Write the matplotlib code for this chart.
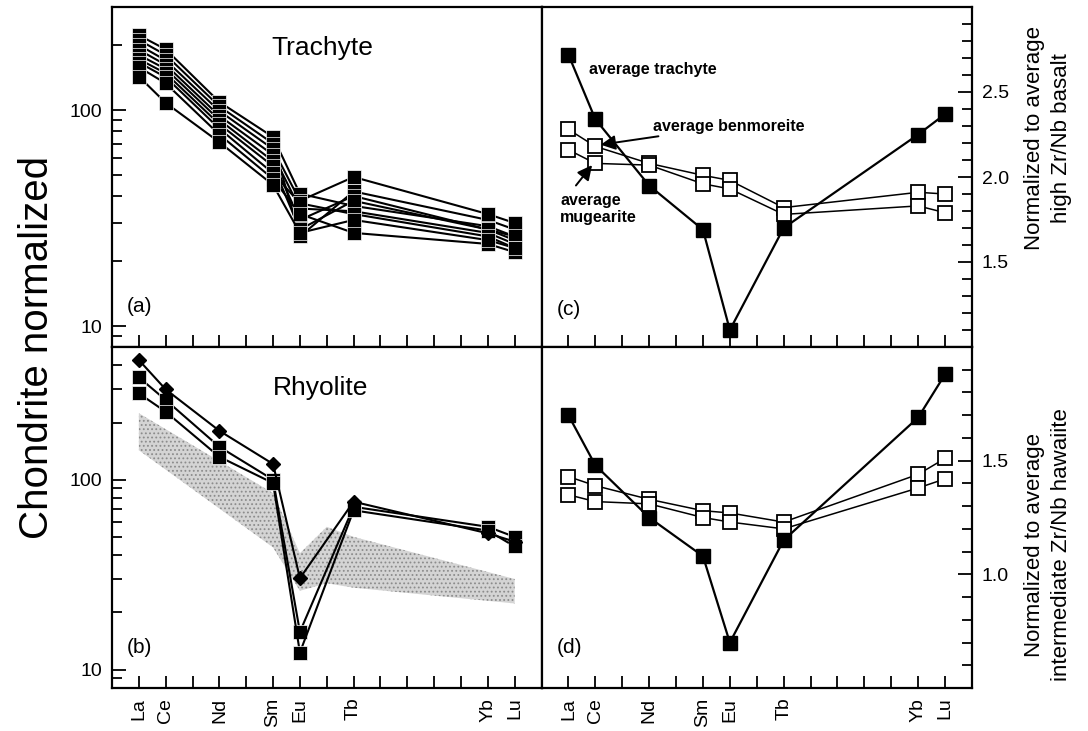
import matplotlib
matplotlib.use("Agg")
import matplotlib.pyplot as plt
from matplotlib import ticker

plt.rcParams["font.family"] = ["Liberation Sans", "DejaVu Sans"]

# Lanthanides on the x axis: every element gets a tick, analysed ones a label
ree_all = ["La", "Ce", "Pr", "Nd", "Pm", "Sm", "Eu", "Gd", "Tb", "Dy", "Ho", "Er", "Tm", "Yb", "Lu"]
ree = ["La", "Ce", "Nd", "Sm", "Eu", "Tb", "Yb", "Lu"]

# (a) trachytes, chondrite normalized
trachyte = [
    [222, 191, 109, 75, 41, 36, 29, 26],
    [211, 180, 104, 70, 26, 42, 31, 28],
    [200, 170, 99, 66, 38, 49, 33, 30],
    [190, 162, 94, 62, 35, 34, 27, 24],
    [180, 155, 90, 58, 31, 40, 28, 25],
    [172, 148, 86, 55, 28, 38, 28, 26],
    [166, 142, 82, 51, 37, 33, 26, 23],
    [158, 133, 77, 48, 33, 27, 24, 22],
    [143, 108, 71, 45, 27, 31, 25, 23],
]

# (b) rhyolites, chondrite normalized
rhyolite_sq = [
    [346, 263, 149, 100, 15.8, 72, 56.5, 50],
    [285, 228, 132, 96, 12.3, 69, 54, 44.5],
]
rhyolite_dia = [427, 299, 181, 121, 30.3, 76.6, 52.2, 47.2]
band_ree = ["La", "Sm", "Eu", "Gd", "Tb", "Lu"]
band_upper = [224, 85, 41, 56.5, 50, 30]
band_lower = [143, 44, 26, 28.5, 27, 22.3]

# (c) normalized to average high Zr/Nb basalt
c_trachyte = [2.72, 2.34, 1.95, 1.69, 1.10, 1.70, 2.25, 2.37]
c_benmoreite = [2.28, 2.18, 2.08, 2.01, 1.98, 1.82, 1.91, 1.90]
c_mugearite = [2.16, 2.08, 2.07, 1.96, 1.93, 1.78, 1.83, 1.79]
c_ticks = [1.5, 2.0, 2.5]

# (d) normalized to average intermediate Zr/Nb hawaiite
d_trachyte = [1.70, 1.48, 1.25, 1.08, 0.70, 1.15, 1.69, 1.88]
d_benmoreite = [1.43, 1.39, 1.33, 1.28, 1.27, 1.23, 1.44, 1.51]
d_mugearite = [1.35, 1.32, 1.31, 1.25, 1.23, 1.20, 1.38, 1.42]
d_ticks = [1.0, 1.5]


def style(ax, bottom):
    ax.set_xlim(-1, 15)
    ax.set_xticks(range(len(ree_all)))
    if bottom:
        ax.set_xticklabels([e if e in ree else "" for e in ree_all], rotation=90)
    else:
        ax.tick_params(axis="x", labelbottom=False)
    ax.tick_params(axis="both", which="both", direction="in", width=1.3, labelsize=14, pad=7)
    ax.tick_params(axis="x", length=9)
    for s in ax.spines.values():
        s.set_linewidth(1.6)


def log_axis(ax, lo, hi):
    ax.set_yscale("log")
    ax.set_ylim(lo, hi)
    ax.yaxis.set_major_locator(ticker.LogLocator(base=10))
    ax.yaxis.set_minor_locator(ticker.LogLocator(base=10, subs=range(2, 10)))
    ax.yaxis.set_major_formatter(ticker.FuncFormatter(lambda v, _: f"{v:g}"))
    ax.yaxis.set_minor_formatter(ticker.NullFormatter())
    ax.tick_params(axis="y", which="major", length=10)
    ax.tick_params(axis="y", which="minor", length=7)


def lin_axis(ax, lo, hi, labelled):
    ax.set_ylim(lo, hi)
    ax.yaxis.tick_right()
    ax.yaxis.set_major_locator(ticker.FixedLocator(labelled))
    ax.yaxis.set_minor_locator(ticker.MultipleLocator(0.1))
    ax.yaxis.set_major_formatter(ticker.FormatStrFormatter("%.1f"))
    ax.tick_params(axis="y", which="major", length=10)
    ax.tick_params(axis="y", which="minor", length=7)


def main() -> None:
    x = [ree_all.index(e) for e in ree]
    xb = [ree_all.index(e) for e in band_ree]

    fig = plt.figure(figsize=(10.88, 7.31), dpi=100)
    L, M, R = 112 / 1088, 541.5 / 1088, 972 / 1088
    top, mid, bot = 1 - 7 / 731, 1 - 347 / 731, 1 - 688 / 731
    ax_a = fig.add_axes([L, mid, M - L, top - mid])
    ax_b = fig.add_axes([L, bot, M - L, mid - bot])
    ax_c = fig.add_axes([M, mid, R - M, top - mid])
    ax_d = fig.add_axes([M, bot, R - M, mid - bot])

    filled = dict(color="k", lw=1.5, marker="s", ms=10, mfc="k", mec="white", mew=0.5)
    black = dict(color="k", lw=1.6, marker="s", ms=10, mfc="k", mec="k")
    hollow = dict(color="k", lw=1.1, marker="s", ms=10, mfc="white", mec="k", mew=1.3)

    # (a)
    for s in trachyte:
        ax_a.plot(x, s, **filled)
    style(ax_a, False)
    log_axis(ax_a, 8, 300)
    ax_a.text(0.49, 0.88, "Trachyte", transform=ax_a.transAxes, ha="center", va="center", fontsize=19)
    ax_a.text(0.035, 0.12, "(a)", transform=ax_a.transAxes, ha="left", va="center", fontsize=15)

    # (b) stippled field behind the rhyolites
    plt.rcParams["hatch.linewidth"] = 0.8
    ax_b.fill_between(xb, band_lower, band_upper, facecolor="#d4d4d4", edgecolor="#8c8c8c",
                      hatch="....", lw=0, zorder=1)
    for s in rhyolite_sq:
        ax_b.plot(x, s, zorder=3, **filled)
    ax_b.plot(x, rhyolite_dia, color="k", lw=1.5, marker="D", ms=7, mfc="k", mec="k", zorder=3)
    style(ax_b, True)
    log_axis(ax_b, 8, 500)
    ax_b.text(0.485, 0.88, "Rhyolite", transform=ax_b.transAxes, ha="center", va="center", fontsize=19)
    ax_b.text(0.035, 0.12, "(b)", transform=ax_b.transAxes, ha="left", va="center", fontsize=15)

    # (c)
    ax_c.plot(x, c_benmoreite, **hollow)
    ax_c.plot(x, c_mugearite, **hollow)
    ax_c.plot(x, c_trachyte, **black)
    style(ax_c, False)
    lin_axis(ax_c, 1.0, 3.0, c_ticks)
    note = dict(ha="left", va="center", fontsize=11.5, fontweight="bold")
    arrow = dict(arrowstyle="-|>", color="k", lw=1.4, mutation_scale=22, shrinkA=0, shrinkB=0)
    ax_c.text(0.75, 2.63, "average trachyte", **note)
    ax_c.annotate("average benmoreite", xy=(1.2, 2.19), xytext=(3.15, 2.30), arrowprops=arrow, **note)
    ax_c.text(-0.3, 1.81, "average\nmugearite", **note)
    ax_c.annotate("", xy=(0.88, 2.07), xytext=(0.28, 1.95), arrowprops=arrow)
    ax_c.text(0.035, 0.11, "(c)", transform=ax_c.transAxes, ha="left", va="center", fontsize=15)

    # (d)
    ax_d.plot(x, d_benmoreite, **hollow)
    ax_d.plot(x, d_mugearite, **hollow)
    ax_d.plot(x, d_trachyte, **black)
    style(ax_d, True)
    lin_axis(ax_d, 0.5, 2.0, d_ticks)
    ax_d.text(0.035, 0.12, "(d)", transform=ax_d.transAxes, ha="left", va="center", fontsize=15)

    fig.text(37 / 1088, 1 - 347 / 731, "Chondrite normalized", rotation=90,
             ha="center", va="center", fontsize=29)
    fig.text(1048 / 1088, 1 - 138 / 731, "Normalized to average\nhigh Zr/Nb basalt",
             rotation=90, ha="center", va="center", fontsize=16, linespacing=1.35)
    fig.text(1048 / 1088, 1 - 545 / 731, "Normalized to average\nintermediate Zr/Nb hawaiite",
             rotation=90, ha="center", va="center", fontsize=16, linespacing=1.35)

    fig.savefig("out.png", dpi=100)
    plt.close(fig)


if __name__ == "__main__":
    main()
